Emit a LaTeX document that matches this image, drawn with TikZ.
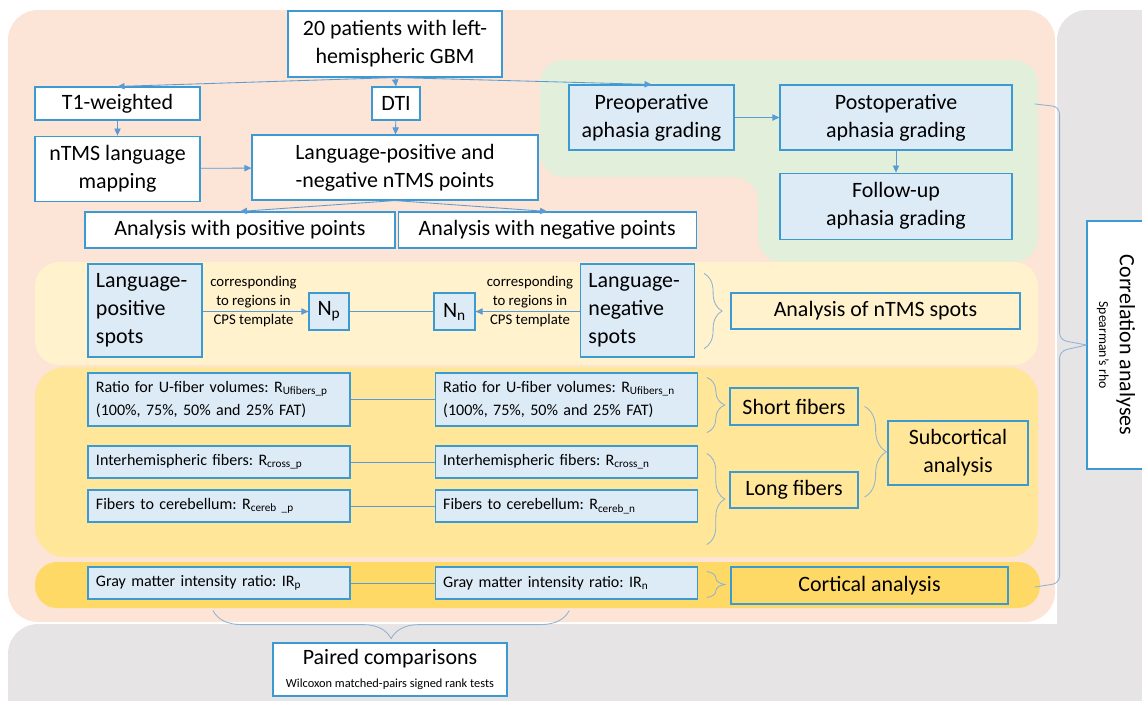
\documentclass[tikz,border=0pt]{standalone}
\usepackage{fontspec}
\setmainfont{Carlito}
\usetikzlibrary{positioning,arrows.meta,decorations.pathreplacing}

\definecolor{salmonbg}{HTML}{FCE4D6}
\definecolor{greybg}{HTML}{E7E4E6}
\definecolor{greenbg}{HTML}{E2EFDA}
\definecolor{lightyel}{HTML}{FFF2CC}
\definecolor{yel}{HTML}{FFE699}
\definecolor{darkyel}{HTML}{FFD966}
\definecolor{bluefill}{HTML}{DDEBF7}
\definecolor{blueline}{HTML}{3C9AD2}
\definecolor{conn}{HTML}{5B9BD5}
\definecolor{bracecol}{HTML}{8DB3D6}

\newcommand{\bigtxt}{\fontsize{15.6}{19.9}\selectfont}
\newcommand{\smalltxt}{\fontsize{11.4}{16.4}\selectfont}
\newcommand{\tinytxt}{\fontsize{10.5}{13.5}\selectfont}
\newcommand{\notetxt}{\fontsize{8.8}{10.5}\selectfont}
\newcommand{\rhotxt}{\fontsize{9.8}{11}\selectfont}

\tikzset{
  box/.style={draw=blueline, line width=0.8pt, fill=white, inner sep=0pt, align=center, font=\bigtxt},
  sz/.style 2 args={minimum width=#1*0.025cm, minimum height=#2*0.025cm},
  grade/.style={box, fill=bluefill},
  spot/.style={box, fill=bluefill, align=left, text width=2.45cm, inner xsep=0.2cm, minimum height=2.325cm},
  pnbox/.style={box, fill=bluefill, font=\smalltxt, align=left, text width=6.15cm, inner xsep=0.2cm, minimum height=#1*0.025cm},
  group/.style={box, fill=none},
  note/.style={font=\tinytxt, align=center, inner sep=0pt},
  arr/.style={draw=conn, line width=0.6pt, -{Triangle[length=5pt,width=4.5pt]}},
  link/.style={draw=conn, line width=0.6pt},
  brc/.style={draw=bracecol, line width=0.6pt, decorate, decoration={brace, amplitude=#1}},
  brcline/.style={draw=bracecol, line width=0.6pt, rounded corners=5pt}
}

\begin{document}
\frenchspacing
\begin{tikzpicture}[x=0.025cm, y=-0.025cm]
  \useasboundingbox (0,0) rectangle (1142,700);
  \clip (0,0) rectangle (1142,700);

  % Background panels
  \fill[greybg, rounded corners=0.75cm] (1057,10) rectangle (1220,760);
  \fill[greybg, rounded corners=0.75cm] (8,624) rectangle (1220,760);
  \fill[salmonbg, rounded corners=0.75cm] (8,10) rectangle (1055,622);
  \fill[greenbg, rounded corners=0.6cm] (540,60) -- (1038,60) -- (1038,262) -- (758,262) -- (758,177) -- (540,177) -- cycle;
  \fill[lightyel, rounded corners=0.6cm] (35,262) rectangle (1038,365);
  \fill[yel, rounded corners=0.75cm] (35,367) rectangle (1038,557);
  \fill[darkyel, rounded corners=0.55cm] (35,562) rectangle (1040,608);

  % Define nodes
  \node[box, sz={214}{66}] (pat) at (395,44) {20 patients with left-\\hemispheric GBM};
  \node[box, sz={165}{33}] (t1) at (117.5,103.5) {T1-weighted};
  \node[box, sz={48}{33}] (dti) at (396,103.5) {DTI};
  \node[box, sz={165}{65}, below=0.375cm of t1] (map) {nTMS language\\mapping};
  \node[box, sz={286}{65}] (pts) at (395,167.5) {Language-positive and\\-negative nTMS points};
  \node[box, sz={310}{36}] (apos) at (240,230) {Analysis with positive points};
  \node[box, sz={298}{36}, right=0.05cm of apos] (aneg) {Analysis with negative points};
  \node[grade, sz={165}{65}] (pre) at (651.5,117.5) {Preoperative\\aphasia grading};
  \node[grade, sz={232}{65}] (post) at (896,117.5) {Postoperative\\aphasia grading};
  \node[grade, sz={232}{66}, below=0.55cm of post] (fol) {Follow-up\\aphasia grading};

  \node[spot] (lpos) at (145,310.5) {Language-\\positive\\spots};
  \node[grade, sz={40}{37}] (np) at (329,311.5) {N\textsubscript{p}};
  \node[grade, sz={41}{37}] (nn) at (454.5,311.5) {N\textsubscript{n}};
  \node[spot] (lneg) at (637.5,310.5) {Language-\\negative\\spots};
  \node[note] (corp) at (253.5,302) {corresponding\\to regions in\\CPS template};
  \node[note] (corn) at (530,302) {corresponding\\to regions in\\CPS template};
  \node[group, sz={289}{36}] (ntms) at (875.5,311) {Analysis of nTMS spots};

  \node[pnbox=53] (ufp) at (219,399.5) {\mbox{Ratio for U-fiber volumes: R\textsubscript{Ufibers\_p}}\\(100\%, 75\%, 50\% and 25\% FAT)};
  \node[pnbox=53, right=2.1cm of ufp] (ufn) {\mbox{Ratio for U-fiber volumes: R\textsubscript{Ufibers\_n}}\\(100\%, 75\%, 50\% and 25\% FAT)};
  \node[pnbox=32] (icp) at (219,462) {Interhemispheric fibers: R\textsubscript{cross\_p}};
  \node[pnbox=32, right=2.1cm of icp] (icn) {Interhemispheric fibers: R\textsubscript{cross\_n}};
  \node[pnbox=32] (cbp) at (219,506) {Fibers to cerebellum: R\textsubscript{cereb \_p}};
  \node[pnbox=32, right=2.1cm of cbp] (cbn) {Fibers to cerebellum: R\textsubscript{cereb\_n}};
  \node[pnbox=32] (gmp) at (219,583) {Gray matter intensity ratio: IR\textsubscript{p}};
  \node[pnbox=32, right=2.1cm of gmp] (gmn) {Gray matter intensity ratio: IR\textsubscript{n}};

  \node[group, sz={128}{37}] (short) at (794,406.5) {Short fibers};
  \node[group, sz={128}{36}] (long) at (794,490) {Long fibers};
  \node[group, sz={140}{64}] (sub) at (958,453) {Subcortical\\analysis};
  \node[box, fill=darkyel, sz={277}{37}] (cort) at (869.5,585.5) {Cortical analysis};

  \node[box, rotate=-90, sz={248}{58}] (corr) at (1116,345) {Correlation analyses\\[-5pt]{\rhotxt Spearman’s rho}};
  \node[box, sz={234}{53}] (paired) at (390,669.5) {Paired comparisons\\[-4pt]{\notetxt Wilcoxon matched-pairs signed rank tests}};

  % Connect nodes
  \draw[arr] (pat.south) -- (t1.north);
  \draw[arr] (pat.south) -- (dti.north);
  \draw[arr] (pat.south) -- (pre.north);
  \draw[arr] (t1) -- (map);
  \draw[arr] (dti) -- (pts);
  \draw[arr] (map) -- (pts);
  \draw[arr] (pts.south) -- (apos.north);
  \draw[arr] (pts.south) -- (aneg.north);
  \draw[arr] (pre) -- (post);
  \draw[arr] (post) -- (fol);
  \draw[arr] (lpos.east |- np) -- (np);
  \draw[arr] (lneg.west |- nn) -- (nn);
  \draw[link] (np) -- (nn);
  \draw[link] (ufp) -- (ufn);
  \draw[link] (icp) -- (icn);
  \draw[link] (cbp) -- (cbn);
  \draw[link] (gmp) -- (gmn);

  % Braces
  \draw[brc=0.45cm] ([xshift=0.225cm, yshift=-0.25cm]lneg.north east) -- ([xshift=0.225cm, yshift=0.225cm]lneg.south east);
  \draw[brc=0.45cm] ([xshift=0.225cm, yshift=-0.125cm]ufn.north east) -- ([xshift=0.225cm, yshift=-0.15cm]ufn.south east);
  \draw[brc=0.45cm] ([xshift=0.225cm, yshift=-0.2cm]icn.north east) -- ([xshift=0.225cm, yshift=-0.55cm]cbn.south east);
  \draw[brc=0.45cm] ([xshift=0.225cm, yshift=-0.125cm]gmn.north east) -- ([xshift=0.225cm, yshift=0.05cm]gmn.south east);
  \draw[brc=0.55cm] ([xshift=0.15cm]short.east) -- ([xshift=0.15cm, yshift=-0.175cm]long.east);
  \draw[brcline] ([xshift=0.55cm, yshift=0.34cm]post.east) -- ++(25,3) -- ++(0,233) -- (corr.south);
  \draw[brcline] ([xshift=0.65cm, yshift=-0.04cm]cort.east) -- ++(25,-4) -- ++(0,-232) -- (corr.south);
  \draw[brc=0.7cm] ([xshift=0.075cm, yshift=-0.275cm]gmn.south) -- ([xshift=-0.15cm, yshift=-0.275cm]gmp.south);
\end{tikzpicture}
\end{document}
